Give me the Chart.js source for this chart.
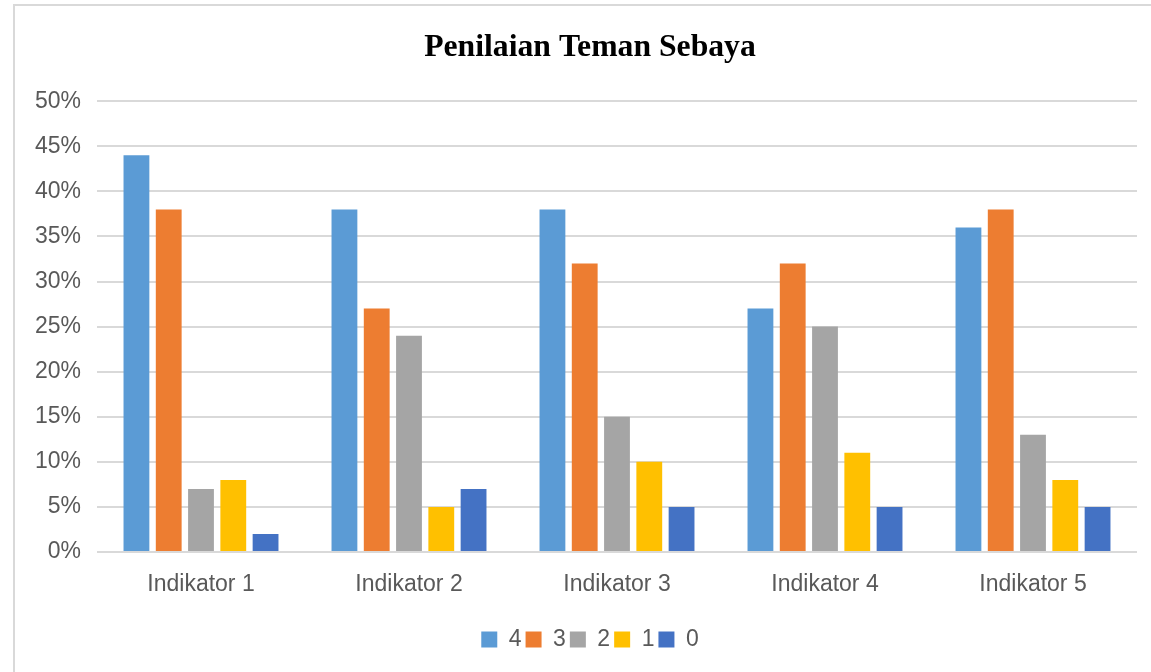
<!DOCTYPE html>
<html>
<head>
<meta charset="utf-8">
<script src="https://cdn.jsdelivr.net/npm/chart.js@4/dist/chart.umd.min.js"></script>
<style>
  html, body { margin: 0; padding: 0; background: #ffffff; overflow: hidden; width: 1151px; height: 672px; }
  #wrap { position: absolute; left: 13px; top: 4px; width: 1200px; height: 720px; border: 2px solid #d9d9d9; background: #fff; }
  #c { position: absolute; left: 0; top: 0; }
</style>
</head>
<body>
<div id="wrap"><canvas id="c" width="1150" height="666"></canvas></div>
<script>
const title = "Penilaian Teman Sebaya";
const categories = ["Indikator 1", "Indikator 2", "Indikator 3", "Indikator 4", "Indikator 5"];
const seriesNames = ["4", "3", "2", "1", "0"];
const seriesColors = ["#5B9BD5", "#ED7D31", "#A5A5A5", "#FFC000", "#4472C4"];
const s4 = [44, 38, 38, 27, 36];
const s3 = [38, 27, 32, 32, 38];
const s2 = [7, 24, 15, 25, 13];
const s1 = [8, 5, 10, 11, 8];
const s0 = [2, 7, 5, 5, 5];
const seriesValues = [s4, s3, s2, s1, s0];
const yMax = 50;
const yStep = 5;

const datasets = seriesNames.map((n, i) => ({
  label: n,
  data: seriesValues[i],
  backgroundColor: seriesColors[i],
  borderWidth: 0,
  categoryPercentage: 0.776,
  barPercentage: 0.8
}));

new Chart(document.getElementById('c'), {
  type: 'bar',
  data: { labels: categories, datasets },
  options: {
    responsive: false,
    animation: false,
    devicePixelRatio: 1,
    layout: { padding: { left: 0, right: 0, top: 0, bottom: 11 } },
    plugins: {
      title: {
        display: true,
        text: title,
        color: '#000000',
        font: { family: 'Liberation Serif', size: 31.7, weight: 'bold' },
        padding: { top: 22.6, bottom: 34.6 }
      },
      legend: {
        display: true,
        position: 'bottom',
        labels: {
          boxWidth: 16,
          boxHeight: 16,
          padding: 4,
          color: '#595959',
          font: { family: 'Liberation Sans', size: 23 }
        }
      },
      tooltip: { enabled: false }
    },
    scales: {
      x: {
        grid: { display: false, drawTicks: false },
        border: { display: false },
        ticks: { color: '#595959', font: { family: 'Liberation Sans', size: 23 }, padding: 19, maxRotation: 0 },
        afterFit(s) { s.height = 72; }
      },
      y: {
        min: 0,
        max: yMax,
        grid: { color: '#d9d9d9', lineWidth: 2, drawTicks: false },
        border: { display: false },
        ticks: {
          stepSize: yStep,
          color: '#595959',
          font: { family: 'Liberation Sans', size: 23 },
          padding: 16,
          callback: v => v + '%'
        },
        afterFit(s) { s.width = 82; }
      },
      yRight: {
        type: 'linear',
        position: 'right',
        display: true,
        grid: { display: false, drawTicks: false },
        border: { display: false },
        ticks: { display: false },
        afterFit(s) { s.width = 28; }
      }
    }
  }
});
</script>
</body>
</html>
